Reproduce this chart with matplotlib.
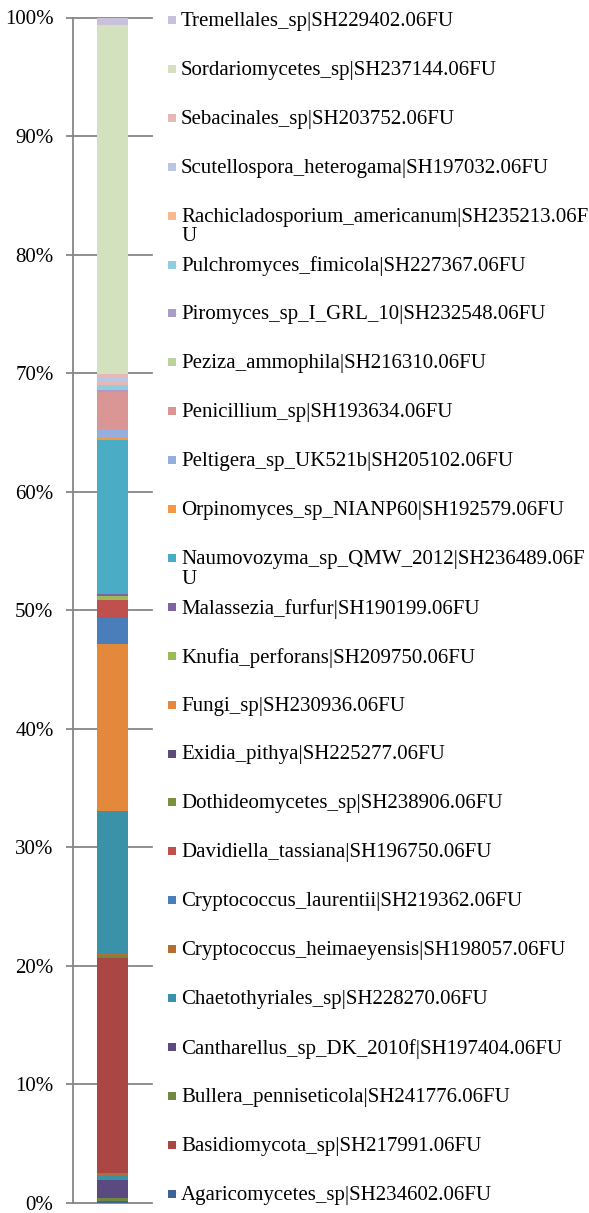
import matplotlib
matplotlib.use("Agg")
import matplotlib.pyplot as plt
from matplotlib.patches import Rectangle
from matplotlib.ticker import PercentFormatter

plt.rcParams['font.family'] = ['Liberation Serif', 'DejaVu Serif']

# legend entries, top to bottom as shown
legend_names = [
    "Tremellales_sp|SH229402.06FU",
    "Sordariomycetes_sp|SH237144.06FU",
    "Sebacinales_sp|SH203752.06FU",
    "Scutellospora_heterogama|SH197032.06FU",
    "Rachicladosporium_americanum|SH235213.06F\nU",
    "Pulchromyces_fimicola|SH227367.06FU",
    "Piromyces_sp_I_GRL_10|SH232548.06FU",
    "Peziza_ammophila|SH216310.06FU",
    "Penicillium_sp|SH193634.06FU",
    "Peltigera_sp_UK521b|SH205102.06FU",
    "Orpinomyces_sp_NIANP60|SH192579.06FU",
    "Naumovozyma_sp_QMW_2012|SH236489.06F\nU",
    "Malassezia_furfur|SH190199.06FU",
    "Knufia_perforans|SH209750.06FU",
    "Fungi_sp|SH230936.06FU",
    "Exidia_pithya|SH225277.06FU",
    "Dothideomycetes_sp|SH238906.06FU",
    "Davidiella_tassiana|SH196750.06FU",
    "Cryptococcus_laurentii|SH219362.06FU",
    "Cryptococcus_heimaeyensis|SH198057.06FU",
    "Chaetothyriales_sp|SH228270.06FU",
    "Cantharellus_sp_DK_2010f|SH197404.06FU",
    "Bullera_penniseticola|SH241776.06FU",
    "Basidiomycota_sp|SH217991.06FU",
    "Agaricomycetes_sp|SH234602.06FU",
]
legend_colors = [
    "#c9c1dc", "#d4e1be", "#e6b9b8", "#b9c7e2", "#f9b98c",
    "#93cddd", "#aa9cc7", "#bdd29a", "#d99694", "#95aedb",
    "#f79646", "#4bacc6", "#8064a2", "#9bbb59", "#e4883c",
    "#604a7b", "#77933c", "#c0504d", "#4a7ebb", "#b66d31",
    "#3a92a8", "#5b4a7f", "#71893f", "#aa4643", "#3c6496",
]

# stacked segments, bottom to top (percent)
stack_names = [
    "Agaricomycetes_sp|SH234602.06FU",
    "Bullera_penniseticola|SH241776.06FU",
    "Cantharellus_sp_DK_2010f|SH197404.06FU",
    "Chaetothyriales_sp|SH228270.06FU",
    "Cryptococcus_heimaeyensis|SH198057.06FU",
    "Basidiomycota_sp|SH217991.06FU",
    "Bullera_penniseticola|SH241776.06FU",
    "Cryptococcus_heimaeyensis|SH198057.06FU",
    "Chaetothyriales_sp|SH228270.06FU",
    "Fungi_sp|SH230936.06FU",
    "Cryptococcus_laurentii|SH219362.06FU",
    "Davidiella_tassiana|SH196750.06FU",
    "Knufia_perforans|SH209750.06FU",
    "Malassezia_furfur|SH190199.06FU",
    "Naumovozyma_sp_QMW_2012|SH236489.06F\nU",
    "Orpinomyces_sp_NIANP60|SH192579.06FU",
    "Peltigera_sp_UK521b|SH205102.06FU",
    "Penicillium_sp|SH193634.06FU",
    "Piromyces_sp_I_GRL_10|SH232548.06FU",
    "Pulchromyces_fimicola|SH227367.06FU",
    "Sebacinales_sp|SH203752.06FU",
    "Scutellospora_heterogama|SH197032.06FU",
    "Sebacinales_sp|SH203752.06FU",
    "Sordariomycetes_sp|SH237144.06FU",
    "Tremellales_sp|SH229402.06FU",
]
stack_values = [
    0.15, 0.25, 1.5, 0.4, 0.25,
    18.15, 0.15, 0.15, 12.07, 14.09,
    2.16, 1.54, 0.34, 0.17, 12.97,
    0.23, 0.69, 3.12, 0.17, 0.42,
    0.33, 0.25, 0.40, 29.45, 0.6,
]

color_of = dict(zip(legend_names, legend_colors))

W, H = 589, 1213
fig = plt.figure(figsize=(W / 100, H / 100), dpi=100)
ax = fig.add_axes([73 / W, 10 / H, 79 / W, 1185.5 / H])

bottom = 0
for name, v in zip(stack_names, stack_values):
    ax.bar(0, v, width=0.4, bottom=bottom, color=color_of[name], linewidth=0, zorder=3)
    bottom += v

ax.set_xlim(-0.5, 0.5)
ax.set_ylim(0, 100)
ax.set_xticks([])
ax.set_yticks(range(0, 101, 10))
ax.yaxis.set_major_formatter(PercentFormatter(xmax=100, decimals=0))
ax.grid(axis='y', color='#868686', linewidth=1.3, zorder=0)
for gl in ax.get_ygridlines():
    gl.set_clip_on(False)
for s in ['top', 'right', 'bottom']:
    ax.spines[s].set_visible(False)
ax.spines['left'].set_color('#868686')
ax.spines['left'].set_linewidth(1.3)
ax.tick_params(axis='y', direction='out', length=5, width=1.3, color='#868686',
               labelsize=15, pad=9)

# legend laid out in equal slots, like the original
y0, step = 20, 48.9
for i, (name, c) in enumerate(zip(legend_names, legend_colors)):
    yc = y0 + i * step
    fig.patches.append(Rectangle((168 / W, 1 - (yc + 4) / H), 8 / W, 8 / H,
                                 transform=fig.transFigure, facecolor=c,
                                 edgecolor='none', figure=fig))
    fig.text(181 / W, 1 - (yc - 8) / H, name, ha='left', va='top',
             fontsize=15, linespacing=1.05)

fig.savefig("out.png", dpi=100)
